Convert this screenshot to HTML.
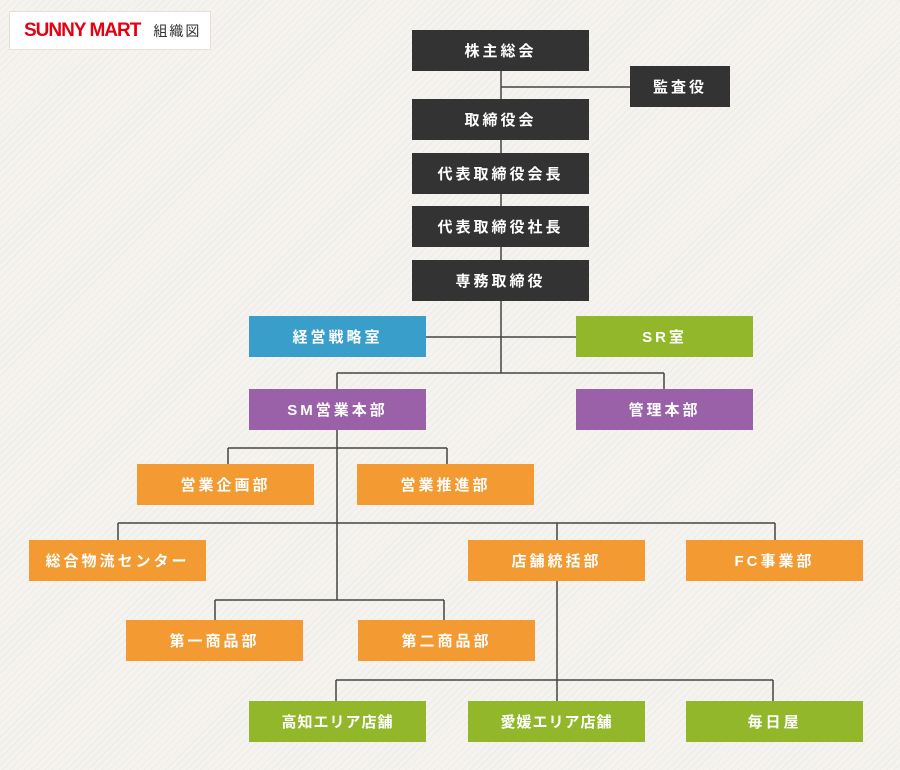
<!DOCTYPE html>
<html><head><meta charset="utf-8"><style>
body{margin:0;width:900px;height:770px;overflow:hidden;font-family:"Liberation Sans","Noto Sans CJK JP",sans-serif;
background:#f5f3ef repeating-linear-gradient(-45deg,#f5f3ef 0 4px,#efebe5 4px 5px);position:relative}
.b{position:absolute;width:177px;height:41px;color:#fff;font-size:15px;font-weight:bold;letter-spacing:3px;display:flex;align-items:center;justify-content:center;box-sizing:border-box}
.k{background:#333}.bl{background:#3a9ecb}.g{background:#92b72b}.p{background:#9a60a8}.o{background:#f39a32}
svg{position:absolute;left:0;top:0}
.logo{position:absolute;left:9px;top:11px;width:202px;height:39px;background:#fff;border:1px solid #e6e0d8;box-sizing:border-box;display:flex;align-items:center}
</style></head><body>
<div class="logo"><span style="margin-left:14px;color:#e50012;font-weight:bold;font-size:19px;letter-spacing:-1px">SUNNY MART</span><span style="margin-left:13px;font-size:14px;color:#333;letter-spacing:2px">組織図</span></div>
<svg width="900" height="770" fill="none" stroke="#444" stroke-width="1.5">
<path d="M501 71V301M501 87H630M426 337H576M501 301V373M337 373H664M337 373V389M664 373V389M337 430V600M228 448H447M228 448V464M447 448V464M118 523H775M118 523V540M557 523V540M775 523V540M215 600H444M215 600V620M444 600V620M557 581V680M336 680H773M336 680V701M557 680V701M773 680V701"/>
</svg>
<div class="b k" style="left:412px;top:30px">株主総会</div>
<div class="b k" style="left:630px;top:66px;width:100px">監査役</div>
<div class="b k" style="left:412px;top:99px">取締役会</div>
<div class="b k" style="left:412px;top:153px">代表取締役会長</div>
<div class="b k" style="left:412px;top:206px">代表取締役社長</div>
<div class="b k" style="left:412px;top:260px">専務取締役</div>
<div class="b bl" style="left:249px;top:316px">経営戦略室</div>
<div class="b g" style="left:576px;top:316px">SR室</div>
<div class="b p" style="left:249px;top:389px">SM営業本部</div>
<div class="b p" style="left:576px;top:389px">管理本部</div>
<div class="b o" style="left:137px;top:464px">営業企画部</div>
<div class="b o" style="left:357px;top:464px">営業推進部</div>
<div class="b o" style="left:29px;top:540px">総合物流センター</div>
<div class="b o" style="left:468px;top:540px">店舗統括部</div>
<div class="b o" style="left:686px;top:540px">FC事業部</div>
<div class="b o" style="left:126px;top:620px">第一商品部</div>
<div class="b o" style="left:358px;top:620px">第二商品部</div>
<div class="b g" style="left:249px;top:701px;letter-spacing:1px">高知エリア店舗</div>
<div class="b g" style="left:468px;top:701px;letter-spacing:1px">愛媛エリア店舗</div>
<div class="b g" style="left:686px;top:701px">毎日屋</div>
</body></html>
